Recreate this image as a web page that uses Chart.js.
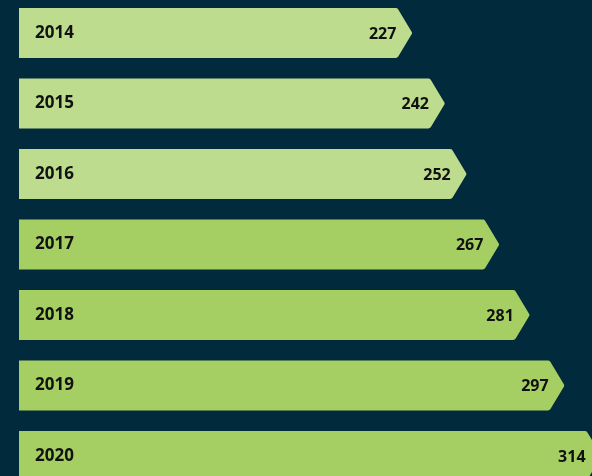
<!DOCTYPE html>
<html>
<head>
<meta charset="utf-8">
<script src="https://cdn.jsdelivr.net/npm/chart.js"></script>
<style>
  html, body { margin: 0; padding: 0; background: #022a3d; }
  #grafico { display: block; }
</style>
</head>
<body>
<canvas id="grafico" width="592" height="476"></canvas>
<script>
var anos = ['2014', '2015', '2016', '2017', '2018', '2019', '2020'];
var valores = [227, 242, 252, 267, 281, 297, 314];
var cores = ['#bddc8e', '#bddc8e', '#bddc8e', '#a6cf63', '#a6cf63', '#a6cf63', '#a6cf63'];

var contexto = document.getElementById("grafico").getContext("2d");

// desenha cada barra como seta, usando as posicoes calculadas pelo Chart.js
var setas = {
    id: 'setas',
    beforeDatasetDraw: function(chart, args) {
        var ctx = chart.ctx;
        var area = chart.chartArea;
        args.meta.data.forEach(function(bar, i) {
            var p = bar.getProps(['x', 'y', 'base', 'height'], true);
            var esq = Math.max(Math.min(p.base, p.x), area.left);
            var ponta = p.x;
            var fim = ponta - 15;
            var topo = p.y - p.height / 2;
            var baixo = p.y + p.height / 2;

            ctx.save();
            ctx.fillStyle = cores[i];
            ctx.beginPath();
            ctx.moveTo(esq, topo);
            ctx.arcTo(fim, topo, ponta, p.y, 3);
            ctx.arcTo(ponta, p.y, fim, baixo, 2);
            ctx.arcTo(fim, baixo, esq, baixo, 3);
            ctx.lineTo(esq, baixo);
            ctx.closePath();
            ctx.fill();

            ctx.fillStyle = '#111';
            ctx.textBaseline = 'middle';
            ctx.font = 'bold 17px "Open Sans"';
            ctx.textAlign = 'left';
            ctx.fillText(anos[i], esq + 16, p.y);

            ctx.font = 'bold 16px "Open Sans"';
            ctx.textAlign = 'right';
            ctx.fillText(String(valores[i]), Math.min(ponta - 16, 590), p.y + 1);
            ctx.restore();
        });
        return false;
    }
};

var grafico = new Chart(contexto, {
    type: 'bar',
    data: {
        labels: anos,
        datasets: [{
            label: 'Valores',
            data: valores,
            backgroundColor: cores,
            barThickness: 50
        }]
    },
    options: {
        indexAxis: 'y',
        responsive: false,
        animation: false,
        layout: { padding: { left: 19, right: 0, top: 33, bottom: 20 } },
        plugins: {
            legend: { display: false },
            tooltip: { enabled: false }
        },
        scales: {
            x: { display: false, min: 46.1, max: 309.6 },
            y: { display: false, offset: false }
        }
    },
    plugins: [setas]
});
</script>
</body>
</html>
